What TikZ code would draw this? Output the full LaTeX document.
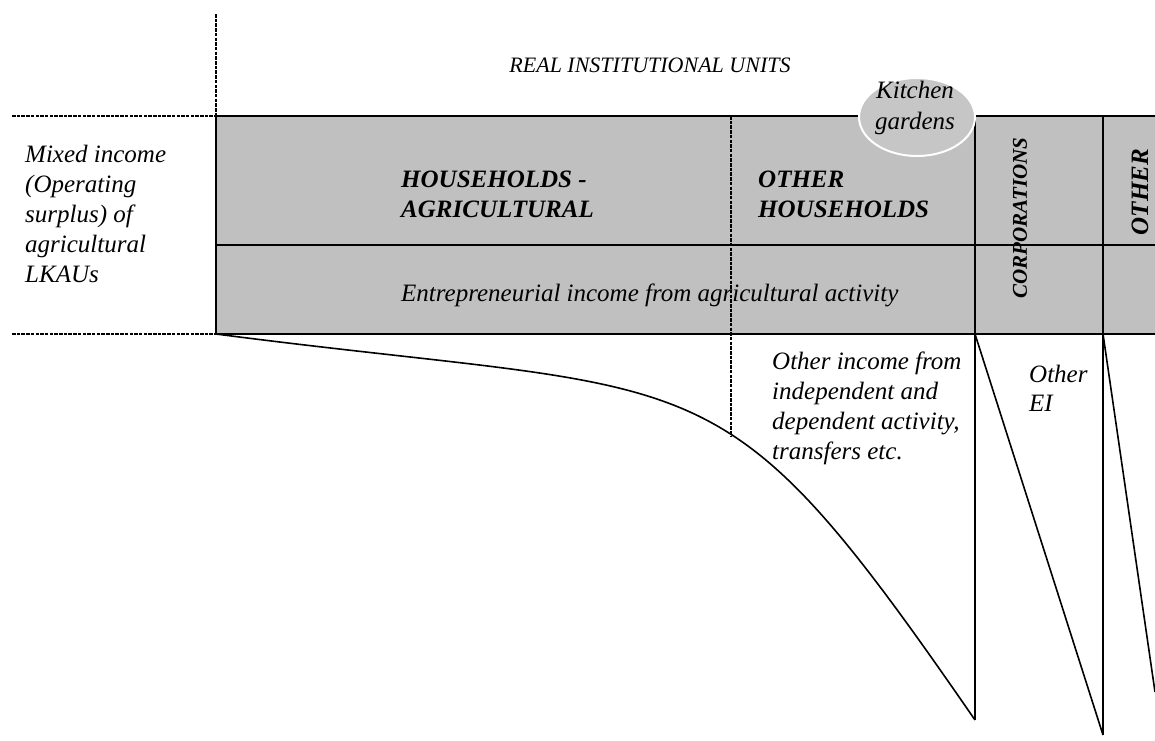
\documentclass[tikz,border=0pt]{standalone}
\usepackage{fontspec}
\setmainfont{Liberation Serif}
\usetikzlibrary{shapes.geometric}
\definecolor{boxgray}{HTML}{C0C0C0}
\definecolor{gardengray}{HTML}{C6C6C6}
\begin{document}
\begin{tikzpicture}[x=1pt,y=-1pt,
  lbl/.style={inner sep=0pt, font=\fontsize{25}{30}\selectfont\itshape, align=left},
  blbl/.style={inner sep=0pt, font=\fontsize{25}{30}\selectfont\bfseries\itshape, align=left},
  rule/.style={line width=2pt},
  dotline/.style={line width=2.6pt, dash pattern=on 3.5pt off 1.2pt},
  flow/.style={line width=1.6pt, line join=round}]
\useasboundingbox (0,0) rectangle (1155,740);
% corners of the band
\coordinate (tl) at (216,116);
\coordinate (ml) at (216,245);
\coordinate (bl) at (216,334);
\coordinate (tr) at (1155,116);
\coordinate (mr) at (1155,245);
\coordinate (br) at (1155,334);
\coordinate (c1t) at (975,116);
\coordinate (c1b) at (975,334);
\coordinate (c1e) at (975,720);
\coordinate (c2t) at (1103,116);
\coordinate (c2b) at (1103,334);
\coordinate (c2e) at (1103,735);
\coordinate (c3e) at (1155,692);
\coordinate (hTop) at (731,116);
\coordinate (hBot) at (731,436);
\coordinate (vTop) at (216,14);
\coordinate (lt) at (12,116);
\coordinate (lb) at (12,334);
% band
\fill[boxgray] (tl) rectangle (br);
\draw[rule] (tr) -- (tl) -- (bl) -- (br);
\draw[rule] (ml) -- (mr);
\draw[rule] (c1t) -- (c1e);
\draw[rule] (c2t) -- (c2e);
% flows
\draw[flow] (bl) .. controls (716,399) and (715,343) .. (c1e);
\draw[flow] (c1b) -- (c2e);
\draw[flow] (c2b) -- (c3e);
% title
\node[lbl, font=\fontsize{22}{26}\selectfont\itshape] (title) at (650,65) {REAL INSTITUTIONAL UNITS};
% left label
\node[lbl, anchor=north west] (mixed) at (25,145) {Mixed income\\(Operating\\surplus) of\\agricultural\\LKAUs};
% band labels
\node[blbl, anchor=north west] (hagr) at (401,171) {HOUSEHOLDS -\\AGRICULTURAL};
\node[blbl, anchor=north west] (hoth) at (758,171) {OTHER\\HOUSEHOLDS};
\node[lbl, anchor=base west] (entr) at (401,301) {Entrepreneurial income from agricultural activity};
\node[blbl, rotate=90, font=\fontsize{21}{25}\selectfont\bfseries\itshape] (corp) at (1020,218) {CORPORATIONS};
\node[blbl, rotate=90] (oth) at (1140,192) {OTHER};
% kitchen gardens
\node[ellipse, draw=white, line width=2pt, fill=gardengray, minimum width=116pt, minimum height=78pt] (kg) at (917,117) {};
\node[lbl, anchor=north, align=center, font=\fontsize{25}{31}\selectfont\itshape] (kgt) at (915,81) {Kitchen\\gardens};
% lower labels
\node[lbl, anchor=north west] (oinc) at (772,352) {Other income from\\independent and\\dependent activity,\\transfers etc.};
\node[lbl, anchor=north west, font=\fontsize{25}{29}\selectfont\itshape] (oei) at (1029,365) {Other\\EI};
% dotted separators
\draw[dotline] (vTop) -- (tl);
\draw[dotline] (lt) -- (tl);
\draw[dotline] (lb) -- (bl);
\draw[dotline] (hTop) -- (hBot);
\end{tikzpicture}
\end{document}
